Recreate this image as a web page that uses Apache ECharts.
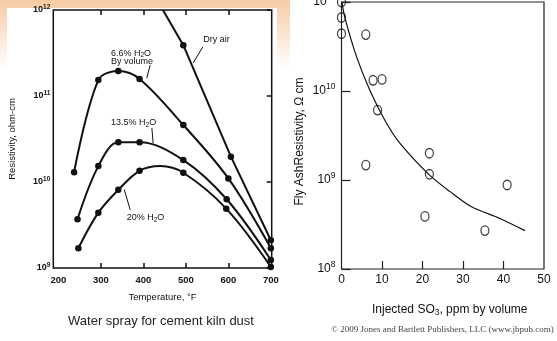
<!DOCTYPE html>
<html>
<head>
<meta charset="utf-8">
<script src="https://cdn.jsdelivr.net/npm/echarts@6/dist/echarts.min.js"></script>
<style>
html, body { margin: 0; padding: 0; background: #fff; }
#chart { width: 557px; height: 341px; }
</style>
</head>
<body>
<div id="chart"></div>
<script>
// left panel: resistivity (ohm-cm) vs temperature (F)
var tempTicks = [300, 400, 500, 600];
var tempLabels = [200, 300, 400, 500, 600, 700];
var dryAir = [[446, 1e12], [494, 3.9e11], [606, 1.97e10], [700, 2.1e9]];
var h2o66 = [[237, 1.3e10], [294, 1.53e11], [341, 1.95e11], [391, 1.58e11], [494, 4.6e10], [600, 1.1e10], [700, 1.7e9]];
var h2o135 = [[245, 3.7e9], [294, 1.53e10], [341, 2.9e10], [391, 2.9e10], [494, 1.8e10], [596, 6.3e9], [700, 1.24e9]];
var h2o20 = [[247, 1.7e9], [294, 4.4e9], [341, 8.1e9], [391, 1.35e10], [440, 1.53e10], [494, 1.28e10], [595, 4.9e9], [700, 1.03e9]];
var h2o20Peak = 4; // index of the curve crest (no dot drawn there)

// right panel: fly ash resistivity vs injected SO3 (ppm)
var so3Ticks = [10, 20, 30, 40];
var so3Points = [[0, 1e11], [0, 6.7e10], [0, 4.4e10], [6, 4.3e10], [7.8, 1.32e10], [10, 1.35e10],
  [8.9, 6.1e9], [21.7, 2.0e9], [6, 1.47e9], [21.7, 1.16e9], [40.9, 8.8e8], [20.6, 3.9e8], [35.4, 2.7e8]];
var so3Fit = [[0.1, 1e11], [0.9, 6.5e10], [3.75, 2.4e10], [7, 1.02e10], [10.7, 4.7e9], [14.4, 2.6e9],
  [21.7, 1.14e9], [26.8, 7.4e8], [32.1, 5.0e8], [39.1, 3.7e8], [45.3, 2.7e8]];

var font = '"Liberation Sans", Arial, sans-serif';
var ink = '#111';

function powLabel(v) {
  return '10{sup|' + Math.round(Math.log(v) / Math.LN10) + '}';
}

var chart = echarts.init(document.getElementById('chart'), null, { renderer: 'canvas' });

var option = {
  animation: false,
  backgroundColor: new echarts.graphic.LinearGradient(0, 0, 0, 1, [
    { offset: 0, color: '#f8cba4' },
    { offset: 0.2, color: '#ffffff' }
  ]),
  textStyle: { fontFamily: font, color: ink },
  graphic: [
    { type: 'rect', z: -10, silent: true, shape: { x: 7, y: 8, width: 270, height: 333 }, style: { fill: '#fff' } },
    { type: 'rect', z: -10, silent: true, shape: { x: 290, y: 0, width: 267, height: 341 }, style: { fill: '#fff' } },
    {
      type: 'text', x: 161, y: 321, silent: true,
      style: { text: 'Water spray for cement kiln dust', font: '13px ' + font, fill: '#222', align: 'center', verticalAlign: 'middle' }
    },
    {
      type: 'text', x: 442.5, y: 330, silent: true,
      style: {
        text: '\u00a9 2009 Jones and Bartlett Publishers, LLC (www.jbpub.com)', font: '9px "Liberation Serif", serif',
        fill: '#444', align: 'center', verticalAlign: 'middle'
      }
    }
  ],
  grid: [
    {
      left: 53.3, top: 10, width: 218.4, height: 258, outerBoundsMode: 'none',
      show: true, borderColor: ink, borderWidth: 1.5, backgroundColor: 'transparent'
    },
    {
      left: 341.5, top: 2, width: 202.5, height: 267, outerBoundsMode: 'none',
      show: true, borderColor: '#222', borderWidth: 1.2, backgroundColor: 'transparent'
    }
  ],
  xAxis: [
    {
      gridIndex: 0, type: 'value', min: 188, max: 702, position: 'bottom',
      axisLine: { show: false }, splitLine: { show: false },
      axisTick: { show: true, inside: true, length: 5, customValues: tempTicks, lineStyle: { color: ink, width: 1.5 } },
      axisLabel: { customValues: tempLabels, fontSize: 9.5, fontWeight: 'bold', color: ink, margin: 7 },
      name: 'Temperature, \u00b0F', nameLocation: 'middle', nameGap: 24,
      nameTextStyle: { fontSize: 9.5, color: ink }
    },
    {
      gridIndex: 0, type: 'value', min: 188, max: 702, position: 'top',
      axisLine: { show: false }, splitLine: { show: false }, axisLabel: { show: false },
      axisTick: { show: true, inside: true, length: 5, customValues: tempTicks, lineStyle: { color: ink, width: 1.5 } }
    },
    {
      gridIndex: 1, type: 'value', min: 0, max: 50, interval: 10, position: 'bottom',
      axisLine: { show: false }, splitLine: { show: false },
      axisTick: { show: true, inside: true, length: 8, customValues: so3Ticks, lineStyle: { color: '#222', width: 1.2 } },
      axisLabel: { fontSize: 12, color: ink, margin: 5 },
      name: 'Injected SO{sub|3}, ppm by volume', nameLocation: 'middle', nameGap: 33,
      nameTextStyle: {
        fontSize: 12, color: ink, padding: [0, 0, 0, 14],
        rich: { sub: { fontSize: 8.5, padding: [6, 0, 0, 0] } }
      }
    }
  ],
  yAxis: [
    {
      gridIndex: 0, type: 'log', logBase: 10, min: 1e9, max: 1e12, position: 'left',
      axisLine: { show: false }, splitLine: { show: false }, axisTick: { show: false },
      axisLabel: {
        formatter: powLabel, fontSize: 9, fontWeight: 'bold', color: ink, margin: 3,
        rich: { sup: { fontSize: 6.5, fontWeight: 'bold', padding: [0, 0, 6, 0] } }
      },
      name: 'Resistivity, ohm-cm', nameLocation: 'middle', nameGap: 36,
      nameTextStyle: { fontSize: 9.5, color: ink }
    },
    {
      gridIndex: 0, type: 'log', logBase: 10, min: 1e9, max: 1e12, position: 'right',
      axisLine: { show: false }, splitLine: { show: false }, axisLabel: { show: false },
      axisTick: { show: true, inside: true, length: 5, lineStyle: { color: ink, width: 1.5 } }
    },
    {
      gridIndex: 1, type: 'log', logBase: 10, min: 1e8, max: 1e11, position: 'left',
      axisLine: { show: false }, splitLine: { show: false },
      axisTick: { show: true, inside: true, length: 9, lineStyle: { color: '#222', width: 1.2 } },
      axisLabel: {
        formatter: powLabel, fontSize: 12, color: ink, margin: 6,
        rich: { sup: { fontSize: 8.5, padding: [0, 0, 8, 0] } }
      },
      name: 'Fly AshResistivity, \u03a9 cm', nameLocation: 'middle', nameGap: 36,
      nameTextStyle: { fontSize: 12, color: ink, padding: [0, 12, 0, 0] }
    }
  ],
  series: [
    {
      name: 'Dry air', type: 'line', xAxisIndex: 0, yAxisIndex: 0,
      data: dryAir.map(function (d, i) { return i === 0 ? { value: d, symbol: 'none' } : d; }),
      symbol: 'circle', symbolSize: 6.5, itemStyle: { color: ink },
      lineStyle: { color: ink, width: 2 }, clip: true,
      markLine: {
        silent: true, symbol: ['none', 'none'], label: { show: false },
        lineStyle: { color: ink, width: 1, type: 'solid' },
        data: [
          [{ coord: [540, 3.72e11] }, { coord: [517, 2.42e11] }],
          [{ coord: [416, 2.29e11] }, { coord: [408, 1.61e11] }],
          [{ coord: [420, 4.25e10] }, { coord: [423, 2.82e10] }],
          [{ coord: [369, 4.72e9] }, { coord: [355, 8.2e9] }]
        ]
      },
      markPoint: {
        silent: true, symbol: 'circle', symbolSize: 1, itemStyle: { color: 'rgba(0,0,0,0)' },
        label: {
          show: true, position: 'inside', fontSize: 9, color: ink,
          rich: { sub: { fontSize: 6.5, padding: [5, 0, 0, 0] } }
        },
        data: [
          { coord: [540, 4.54e11], label: { formatter: 'Dry air', position: 'right', distance: 0 } },
          { coord: [371, 3.16e11], label: { formatter: '6.6% H{sub|2}O' } },
          { coord: [373, 2.55e11], label: { formatter: 'By volume' } },
          { coord: [377, 4.92e10], label: { formatter: '13.5% H{sub|2}O' } },
          { coord: [405, 3.86e9], label: { formatter: '20% H{sub|2}O' } }
        ]
      }
    },
    {
      name: '6.6%', type: 'line', xAxisIndex: 0, yAxisIndex: 0, data: h2o66, smooth: 0.35,
      symbol: 'circle', symbolSize: 6.5, itemStyle: { color: ink }, lineStyle: { color: ink, width: 2 }
    },
    {
      name: '13.5%', type: 'line', xAxisIndex: 0, yAxisIndex: 0, data: h2o135, smooth: 0.35,
      symbol: 'circle', symbolSize: 6.5, itemStyle: { color: ink }, lineStyle: { color: ink, width: 2 }
    },
    {
      name: '20%', type: 'line', xAxisIndex: 0, yAxisIndex: 0, smooth: 0.35,
      data: h2o20.map(function (d, i) { return i === h2o20Peak ? { value: d, symbol: 'none' } : d; }),
      symbol: 'circle', symbolSize: 6.5, itemStyle: { color: ink }, lineStyle: { color: ink, width: 2 }
    },
    {
      name: 'fit', type: 'line', xAxisIndex: 2, yAxisIndex: 2, data: so3Fit, smooth: 0.3,
      symbol: 'none', lineStyle: { color: ink, width: 1.2 }
    },
    {
      name: 'measured', type: 'scatter', xAxisIndex: 2, yAxisIndex: 2, data: so3Points,
      symbol: 'circle', symbolSize: [8, 9.5], clip: false,
      itemStyle: { color: 'rgba(255,255,255,0)', borderColor: ink, borderWidth: 1.3 }
    }
  ]
};

chart.setOption(option);
</script>
</body>
</html>
